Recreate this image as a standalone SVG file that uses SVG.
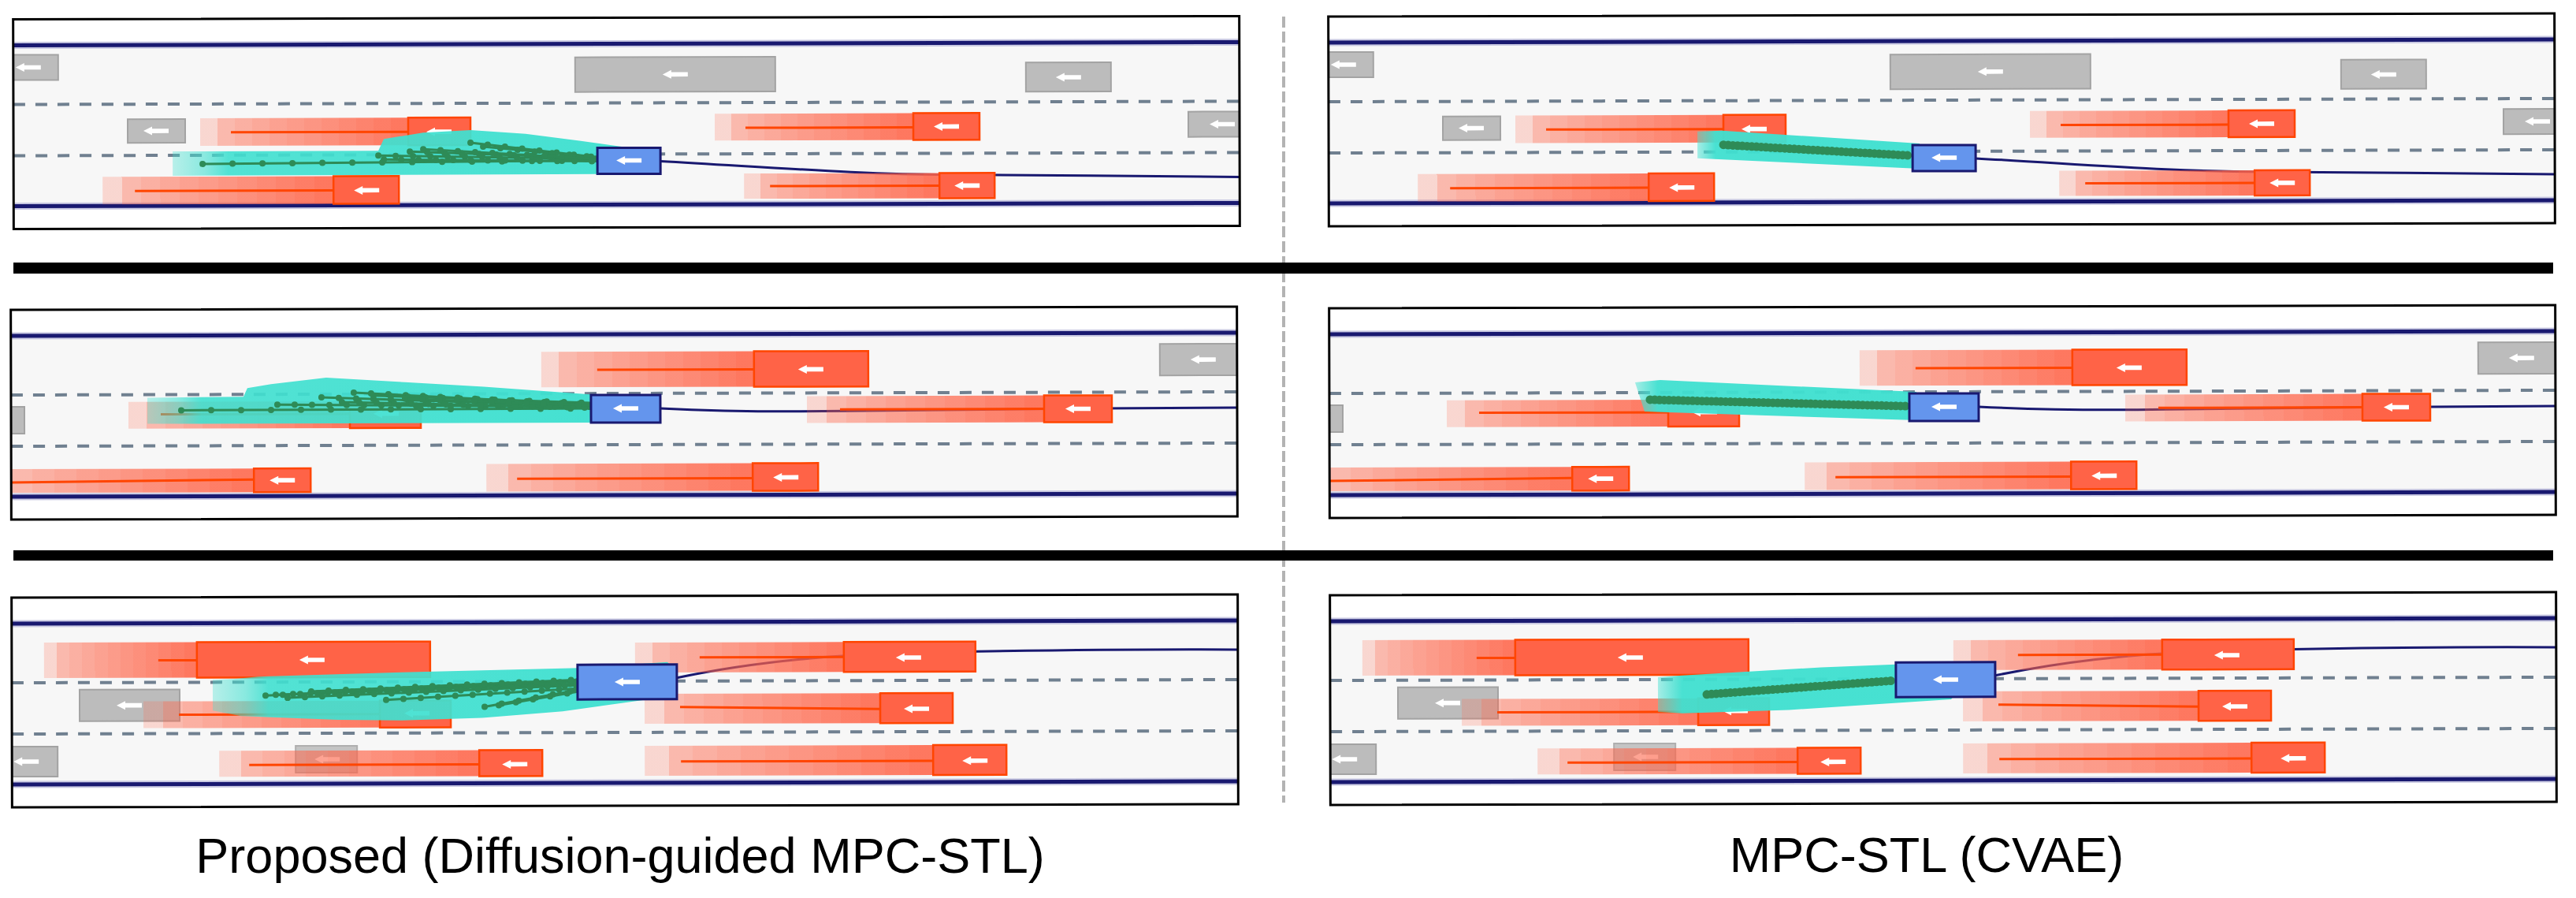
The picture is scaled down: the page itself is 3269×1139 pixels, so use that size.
<svg xmlns="http://www.w3.org/2000/svg" width="3269" height="1139" viewBox="0 0 3269 1139">
<style>
.bg{fill:#fff}
.road{fill:#f7f7f7}
.halo{stroke:#c9c9e2;stroke-width:9;fill:none}
.edge{stroke:#191970;stroke-width:5;fill:none}
.lane{stroke:#708090;stroke-width:4;stroke-dasharray:15 13;fill:none}
.frame{fill:none;stroke:#000;stroke-width:3}
.gc{fill:#bcbcbc;stroke:#a3a3a3;stroke-width:2}
.trail{fill:url(#tg)}
.tl{stroke:#ff4500;stroke-width:3;fill:none}
.rc{fill:#ff6347;stroke:#ff4500;stroke-width:2.5}
.ego{fill:#6495ed;stroke:#191970;stroke-width:3}
.route{fill:none;stroke:#191970;stroke-width:3}
.teal{fill:url(#teal)}
.teal2{fill:url(#teal2)}
.gl{fill:none;stroke:#2e8b57;stroke-width:3}
.gd{fill:none;stroke:#2e8b57;stroke-width:8;stroke-linecap:round;stroke-dasharray:0 38}
.gd2{fill:none;stroke:#2e8b57;stroke-width:8;stroke-linecap:round;stroke-dasharray:0 22}
.bl{fill:none;stroke:#2e8b57;stroke-width:6}
.bd{fill:none;stroke:#2e8b57;stroke-width:11;stroke-linecap:round;stroke-dasharray:0 6}
.sep{fill:#000}
.vdash{stroke:#b3b3b3;stroke-width:4;stroke-dasharray:14 5}
.lbl{font-family:"Liberation Sans",Arial,sans-serif;font-size:63px;fill:#000;text-anchor:middle}
#tg stop{stop-color:#ff6347}
</style>
<defs>
<linearGradient id="tg" x1="0" y1="0" x2="1" y2="0">
<stop offset="0" stop-opacity=".22"/><stop offset=".083" stop-opacity=".22"/>
<stop offset=".083" stop-opacity=".42"/><stop offset=".167" stop-opacity=".42"/>
<stop offset=".167" stop-opacity=".48"/><stop offset=".25" stop-opacity=".48"/>
<stop offset=".25" stop-opacity=".53"/><stop offset=".333" stop-opacity=".53"/>
<stop offset=".333" stop-opacity=".58"/><stop offset=".417" stop-opacity=".58"/>
<stop offset=".417" stop-opacity=".62"/><stop offset=".5" stop-opacity=".62"/>
<stop offset=".5" stop-opacity=".66"/><stop offset=".583" stop-opacity=".66"/>
<stop offset=".583" stop-opacity=".7"/><stop offset=".667" stop-opacity=".7"/>
<stop offset=".667" stop-opacity=".74"/><stop offset=".75" stop-opacity=".74"/>
<stop offset=".75" stop-opacity=".78"/><stop offset=".833" stop-opacity=".78"/>
<stop offset=".833" stop-opacity=".82"/><stop offset=".917" stop-opacity=".82"/>
<stop offset=".917" stop-opacity=".86"/><stop offset="1" stop-opacity=".86"/>
</linearGradient>
<linearGradient id="teal" x1="0" y1="0" x2="1" y2="0">
<stop offset="0" stop-color="#40e0d0" stop-opacity=".35"/>
<stop offset=".07" stop-color="#40e0d0" stop-opacity=".6"/>
<stop offset=".12" stop-color="#40e0d0" stop-opacity=".9"/>
<stop offset="1" stop-color="#40e0d0" stop-opacity=".97"/>
</linearGradient>
<linearGradient id="teal2" x1="0" y1="0" x2="1" y2="0">
<stop offset="0" stop-color="#40e0d0" stop-opacity=".45"/>
<stop offset=".08" stop-color="#40e0d0" stop-opacity=".95"/>
<stop offset="1" stop-color="#40e0d0" stop-opacity=".97"/>
</linearGradient>
<path id="arr" d="M-16,0 L-5,-5.5 L-5,-2.8 L16,-2.8 L16,2.8 L-5,2.8 L-5,5.5 Z" fill="#fff"/>
<clipPath id="pc"><rect x="0" y="0" width="1556" height="266"/></clipPath>
<g id="road">
<rect class="bg" x="0" y="0" width="1556" height="266"/>
<rect class="road" x="0" y="33" width="1556" height="204"/>
<line class="halo" x1="0" y1="33" x2="1556" y2="33"/>
<line class="halo" x1="0" y1="237" x2="1556" y2="237"/>
<line class="edge" x1="0" y1="33" x2="1556" y2="33"/>
<line class="edge" x1="0" y1="237" x2="1556" y2="237"/>
<line class="lane" x1="0" y1="108" x2="1556" y2="108"/>
<line class="lane" x1="0" y1="173" x2="1556" y2="173"/>
</g>
<g id="row1">
<path class="route" d="M821,182 C960,190 1080,200 1190,200 C1300,201 1450,203 1556,204"/>
<rect class="gc" x="-19" y="45" width="76" height="32"/><use href="#arr" x="19" y="61"/>
<rect class="gc" x="713" y="50" width="254" height="44"/><use href="#arr" x="840" y="72"/>
<rect class="gc" x="1285" y="58" width="108" height="37"/><use href="#arr" x="1339" y="77"/>
<rect class="gc" x="1491" y="121" width="86" height="32"/><use href="#arr" x="1534" y="137"/>
<rect class="gc" x="145" y="127" width="73" height="30"/><use href="#arr" x="181" y="142"/>
<rect class="trail" x="237" y="126" width="264" height="35"/><line class="tl" x1="276" y1="144" x2="501" y2="144"/>
<rect class="rc" x="501" y="126" width="79" height="35"/><use href="#arr" x="540" y="144"/>
<rect class="trail" x="890" y="122" width="252" height="34"/><line class="tl" x1="929" y1="140" x2="1142" y2="140"/>
<rect class="rc" x="1142" y="122" width="84" height="34"/><use href="#arr" x="1184" y="139"/>
<rect class="trail" x="113" y="200" width="293" height="35"/><line class="tl" x1="154" y1="218" x2="406" y2="218"/>
<rect class="rc" x="406" y="200" width="83" height="35"/><use href="#arr" x="448" y="218"/>
<rect class="trail" x="927" y="198" width="248" height="32"/><line class="tl" x1="960" y1="214" x2="1175" y2="214"/>
<rect class="rc" x="1175" y="198" width="70" height="32"/><use href="#arr" x="1210" y="214"/>
</g>
<g id="ego1"><rect class="ego" x="741" y="165" width="80" height="33"/><use href="#arr" x="781" y="181"/></g>
<g id="row2">
<path class="route" d="M824,127 C900,131 980,132 1060,131 C1200,130 1400,128 1556,128"/>
<rect class="gc" x="-60" y="123" width="77" height="34"/>
<rect class="gc" x="1458" y="47" width="110" height="40"/><use href="#arr" x="1513" y="67"/>
<rect class="trail" x="673" y="55" width="270" height="45"/><line class="tl" x1="744" y1="78" x2="943" y2="78"/>
<rect class="rc" x="943" y="55" width="145" height="45"/><use href="#arr" x="1015" y="78"/>
<rect class="trail" x="1010" y="112" width="301" height="34"/><line class="tl" x1="1052" y1="129" x2="1311" y2="129"/>
<rect class="rc" x="1311" y="112" width="86" height="34"/><use href="#arr" x="1354" y="129"/>
<rect class="trail" x="149" y="117" width="281" height="34"/><line class="tl" x1="190" y1="133" x2="430" y2="133"/>
<rect class="rc" x="430" y="117" width="90" height="34"/><use href="#arr" x="476" y="133"/>
<rect class="trail" x="-30" y="202" width="338" height="30"/><line class="tl" x1="0" y1="219" x2="308" y2="216"/>
<rect class="rc" x="308" y="202" width="72" height="30"/><use href="#arr" x="344" y="217"/>
<rect class="trail" x="603" y="197" width="338" height="35"/><line class="tl" x1="642" y1="216" x2="941" y2="216"/>
<rect class="rc" x="941" y="197" width="83" height="35"/><use href="#arr" x="983" y="215"/>
</g>
<g id="ego2"><rect class="ego" x="736" y="110" width="88" height="35"/><use href="#arr" x="780" y="127"/></g>
<g id="row3">
<path class="route" d="M844,104 C930,86 1030,76 1130,73 C1300,70 1450,69 1556,70"/>
<rect class="gc" x="86" y="117" width="127" height="40"/><use href="#arr" x="149" y="137"/>
<rect class="gc" x="-22" y="189" width="80" height="38"/><use href="#arr" x="18" y="208"/>
<g opacity=".85"><rect class="gc" x="360" y="189" width="78" height="34"/><use href="#arr" x="400" y="206"/></g>
<rect class="trail" x="41" y="57" width="194" height="45"/><line class="tl" x1="186" y1="80" x2="235" y2="80"/>
<rect class="rc" x="235" y="57" width="296" height="45"/><use href="#arr" x="381" y="80"/>
<rect class="trail" x="791" y="59" width="265" height="38"/><line class="tl" x1="873" y1="78" x2="1056" y2="78"/>
<rect class="rc" x="1056" y="59" width="167" height="38"/><use href="#arr" x="1138" y="79"/>
<rect class="trail" x="167" y="132" width="300" height="34"/><line class="tl" x1="212" y1="149" x2="467" y2="149"/>
<rect class="rc" x="467" y="132" width="90" height="34"/><use href="#arr" x="514" y="148"/>
<rect class="trail" x="803" y="124" width="299" height="38"/><line class="tl" x1="848" y1="141" x2="1102" y2="144"/>
<rect class="rc" x="1102" y="124" width="92" height="38"/><use href="#arr" x="1148" y="144"/>
<rect class="trail" x="263" y="195" width="330" height="33"/><line class="tl" x1="301" y1="213" x2="593" y2="213"/>
<rect class="rc" x="593" y="195" width="80" height="33"/><use href="#arr" x="638" y="213"/>
<rect class="trail" x="803" y="190" width="366" height="38"/><line class="tl" x1="849" y1="210" x2="1169" y2="210"/>
<rect class="rc" x="1169" y="190" width="93" height="38"/><use href="#arr" x="1222" y="210"/>
</g>
<g id="ego3"><rect class="ego" x="718" y="87" width="126" height="44"/><use href="#arr" x="781" y="109"/></g>
</defs>

<line class="vdash" x1="1629" y1="21" x2="1629" y2="1018"/>

<g id="panel-proposed-1" transform="translate(17,22.5) rotate(-0.15 778 133)">
<g clip-path="url(#pc)">
<use href="#road"/><use href="#row1"/>
<polygon class="teal" points="202,168 463,168 470,153 520,145 580,142 650,147 720,156 790,166 790,198 202,199"/>
<g id="traj-p1">
<path class="gl" d="M240,184 L741,181"/><path class="gd" d="M240,184 L741,181"/>
<path class="gl" d="M463,174 L741,179"/><path class="gd2" d="M463,174 L741,179"/>
<path class="gl" d="M503,169 L741,178"/><path class="gd2" d="M503,169 L741,178"/>
<path class="gl" d="M580,158 L741,177"/><path class="gd2" d="M580,158 L741,177"/>
<path class="gl" d="M596,163 L741,177"/><path class="gd2" d="M596,163 L741,177"/>
<path class="gl" d="M520,166 L741,179"/><path class="gd2" d="M520,166 L741,179"/>
<path class="gl" d="M470,179 L741,182"/><path class="gd2" d="M470,179 L741,182"/>
</g>
<use href="#ego1"/>
</g>
<rect class="frame" x="0" y="0" width="1556" height="266"/>
</g>

<g id="panel-cvae-1" transform="translate(1686,19) rotate(-0.15 778 133)">
<g clip-path="url(#pc)">
<use href="#road"/><use href="#row1"/>
<polygon class="teal2" points="468,147 500,146 750,163 750,195 468,181"/>
<g id="traj-p2"><path class="bl" d="M501,164 L735,178"/><path class="bd" d="M501,164 L735,178"/></g>
<use href="#ego1"/>
</g>
<rect class="frame" x="0" y="0" width="1556" height="266"/>
</g>

<g id="panel-proposed-2" transform="translate(14,391) rotate(-0.15 778 133)">
<g clip-path="url(#pc)">
<use href="#road"/><use href="#row2"/>
<polygon class="teal" points="173,112 295,111 300,100 330,95 400,87 500,93 600,99 745,110 745,145 173,145"/>
<g id="traj-p3">
<path class="gl" d="M216,128 L736,127"/><path class="gd" d="M216,128 L736,127"/>
<path class="gl" d="M338,121 L736,125"/><path class="gd2" d="M338,121 L736,125"/>
<path class="gl" d="M394,112 L736,124"/><path class="gd2" d="M394,112 L736,124"/>
<path class="gl" d="M435,106 L736,122"/><path class="gd2" d="M435,106 L736,122"/>
<path class="gl" d="M420,118 L736,126"/><path class="gd2" d="M420,118 L736,126"/>
<path class="gl" d="M460,110 L736,120"/><path class="gd2" d="M460,110 L736,120"/>
<path class="gl" d="M500,114 L736,123"/><path class="gd2" d="M500,114 L736,123"/>
</g>
<use href="#ego2"/>
</g>
<rect class="frame" x="0" y="0" width="1556" height="266"/>
</g>

<g id="panel-cvae-2" transform="translate(1687,389) rotate(-0.15 778 133)">
<g clip-path="url(#pc)">
<use href="#road"/><use href="#row2"/>
<polygon class="teal2" points="388,95 420,92 745,108 745,144 400,132"/>
<g id="traj-p4"><path class="bl" d="M407,117 L732,126"/><path class="bd" d="M407,117 L732,126"/></g>
<use href="#ego2"/>
</g>
<rect class="frame" x="0" y="0" width="1556" height="266"/>
</g>

<g id="panel-proposed-3" transform="translate(15,756) rotate(-0.15 778 133)">
<g clip-path="url(#pc)">
<use href="#road"/><use href="#row3"/>
<polygon class="teal" points="255,105 281,104 312,101 495,96 720,91 832,84 844,95 844,128 801,132 699,146 597,154 495,157 414,156 291,151 255,144"/>
<g id="traj-p5">
<path class="gl" d="M322,125 L718,108"/><path class="gd2" d="M322,125 L718,108"/>
<path class="gl" d="M335,124 L718,111"/><path class="gd2" d="M335,124 L718,111"/>
<path class="gl" d="M350,128 L718,113"/><path class="gd2" d="M350,128 L718,113"/>
<path class="gl" d="M380,120 L718,106"/><path class="gd2" d="M380,120 L718,106"/>
<path class="gl" d="M475,131 L718,117"/><path class="gd2" d="M475,131 L718,117"/>
<path class="gl" d="M600,140 L718,119"/><path class="gd2" d="M600,140 L718,119"/>
<path class="gl" d="M618,138 L718,121"/><path class="gd2" d="M618,138 L718,121"/>
</g>
<use href="#ego3"/>
</g>
<rect class="frame" x="0" y="0" width="1556" height="266"/>
</g>

<g id="panel-cvae-3" transform="translate(1688,753) rotate(-0.15 778 133)">
<g clip-path="url(#pc)">
<use href="#road"/><use href="#row3"/>
<polygon class="teal2" points="416,105 447,103 623,93 730,89 800,120 788,134 582,147 447,151 416,149"/>
<g id="traj-p6"><path class="bl" d="M478,127 L716,110"/><path class="bd" d="M478,127 L716,110"/></g>
<use href="#ego3"/>
</g>
<rect class="frame" x="0" y="0" width="1556" height="266"/>
</g>

<rect class="sep" x="17" y="333" width="3223" height="14"/>
<rect class="sep" x="17" y="698" width="3223" height="13"/>

<text class="lbl" x="787" y="1107">Proposed (Diffusion-guided MPC-STL)</text>
<text class="lbl" x="2445" y="1106">MPC-STL (CVAE)</text>
</svg>
